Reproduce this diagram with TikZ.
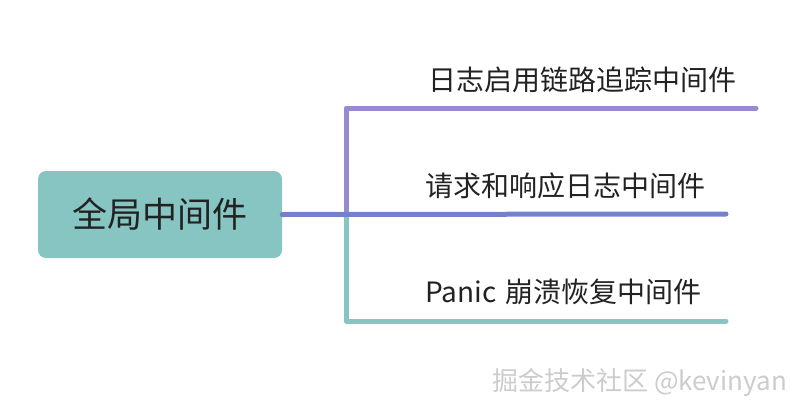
\documentclass[tikz,border=0pt]{standalone}
\usepackage{fontspec}
\setmainfont{Noto Sans CJK SC}
\usepackage{tikz}
\usetikzlibrary{positioning}
\definecolor{boxteal}{RGB}{134,197,194}
\definecolor{branchpurple}{RGB}{152,137,210}
\definecolor{branchblue}{RGB}{115,128,204}
\definecolor{textgray}{RGB}{34,34,34}

\begin{document}
\begin{tikzpicture}[x=1pt,y=-1pt]
	\useasboundingbox (0,0) rectangle (802,412);
	\node[fill=boxteal, rounded corners=8pt, minimum width=244pt, minimum height=87pt, text=textgray, font=\fontsize{35}{40}\selectfont] (root) at (160,214.5) {全局中间件};
	\coordinate (fork) at (346,214);
	\coordinate (logend) at (756,108);
	\coordinate (reqend) at (726,214);
	\coordinate (panicend) at (726,321);
	\begin{scope}[every node/.style={font=\fontsize{28}{32}\selectfont, text=textgray, anchor=west, inner sep=0pt}]
		\node (log) at (428,80) {日志启用链路追踪中间件};
		\node (req) at (425,186) {请求和响应日志中间件};
		\node (panic) at (425,292) {Panic\hspace{3pt} 崩溃恢复中间件};
	\end{scope}
	\begin{scope}[line width=5pt, line cap=round, line join=round]
		\draw[branchpurple] (fork) |- (logend);
		\draw[boxteal] (fork) |- (panicend);
		\draw[branchblue] (root.east) -- (reqend);
	\end{scope}
	\node[text=gray!40, anchor=west, inner sep=0pt, font=\fontsize{26}{30}\selectfont] (mark) at (492,382) {掘金技术社区 @kevinyan};
\end{tikzpicture}
\end{document}
